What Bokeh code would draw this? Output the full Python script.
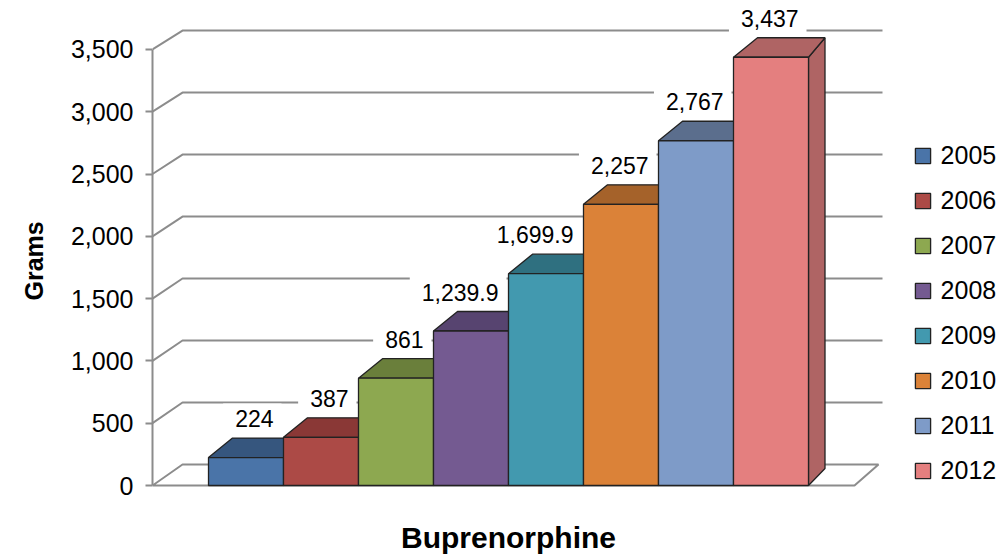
from bokeh.plotting import figure
from bokeh.models import Range1d, FixedTicker, Legend, LegendItem, ColumnDataSource, Title
from bokeh.core.properties import value
from bokeh.embed import file_html
from bokeh.resources import INLINE

# ---------------- data ----------------
years = ["2005", "2006", "2007", "2008", "2009", "2010", "2011", "2012"]
grams = [224, 387, 861, 1239.9, 1699.9, 2257, 2767, 3437]
value_labels = ["224", "387", "861", "1,239.9", "1,699.9", "2,257", "2,767", "3,437"]
y_ticks = [0, 500, 1000, 1500, 2000, 2500, 3000, 3500]
y_tick_labels = ["0", "500", "1,000", "1,500", "2,000", "2,500", "3,000", "3,500"]
x_title = "Buprenorphine"
y_title = "Grams"

front_colors = ["#4A74A8", "#AC4A46", "#8DA850", "#745A91", "#4299AF", "#DB8238", "#7E9BC8", "#E47F7F"]
shade_colors = ["#36567E", "#8A3836", "#6A7F3B", "#574470", "#2F7080", "#A5622A", "#5B6E8D", "#AF6464"]

# ---------------- layout / style ----------------
FONT = "Liberation Sans"
GRID = "#8c8c8c"
EDGE = "#222222"
W, H = 1003, 555
LEFT = 152
FW, FH = W - LEFT, H
TOP_PX, ZERO_PX = 48.9, 485.0          # px of top tick and of zero
K = (ZERO_PX - TOP_PX) / y_ticks[-1]   # px per gram
y_end = y_ticks[-1] + TOP_PX / K
y_start = -(FH - ZERO_PX) / K
SLOT = 75.0                            # px per bar
FIRST_BAR = 56.0                       # px from axis to first bar
x_start = -FIRST_BAR / SLOT
x_end = x_start + FW / SLOT


def dxu(px):
    return px / SLOT


def dyu(px):
    return px / K


n = len(grams)
WALL_DX, WALL_DY = 30, 21
BACK_SCALE = 0.995
BAR_DX, BAR_DY, BAR_DY_BOTTOM, BACK_W = 24, 19.5, 17, 0.9

p = figure(width=W, height=H, x_range=Range1d(x_start, x_end), y_range=Range1d(y_start, y_end),
           output_backend="svg", toolbar_location=None, x_axis_type=None,
           min_border_left=LEFT, min_border_right=0, min_border_top=0, min_border_bottom=0)
p.outline_line_color = None
p.ygrid.visible = False

# y axis
ax = p.yaxis[0]
ax.ticker = FixedTicker(ticks=y_ticks)
ax.major_label_overrides = {t: l for t, l in zip(y_ticks, y_tick_labels)}
ax.bounds = (y_ticks[0], y_ticks[-1])
ax.axis_line_color = GRID
ax.axis_line_width = 2
ax.major_tick_line_color = GRID
ax.major_tick_line_width = 2
ax.major_tick_in = 0
ax.major_tick_out = 7
ax.minor_tick_in = 0
ax.minor_tick_out = 0
ax.major_label_standoff = 12
ax.major_label_text_font = FONT
ax.major_label_text_font_size = "25px"
ax.major_label_text_color = "black"

# y title: starts (bottom end) 255 px above the bottom of the plot area
p.add_layout(Title(text=y_title, align="left", offset=255, vertical_align="top", standoff=36,
                   text_font=FONT, text_font_size="25px", text_font_style="bold",
                   text_color="black"), "left")

# floor
floor_xs = [x_start, n + dxu(46), n + dxu(70), x_start + dxu(WALL_DX)]
floor_ys = [0, 0, dyu(WALL_DY), dyu(WALL_DY)]
p.patch(floor_xs, floor_ys, fill_color="white", line_color=GRID, line_width=2)

# back wall gridlines (front diagonal + horizontal)
grid_right = n + dxu(74)
gx, gy = [], []
for t in y_ticks[1:]:
    by = t * BACK_SCALE + dyu(WALL_DY)
    gx.append([x_start, x_start + dxu(WALL_DX), grid_right])
    gy.append([t, by, by])
p.multi_line(gx, gy, line_color=GRID, line_width=2)


# label backgrounds
def text_w(s, size):
    return sum(0.556 if c.isdigit() else 0.278 for c in s) * size


LBL_SIZE = 23
LBL_RIGHT_INSET = 10       # px between label's right end and bar's right edge
PAD_L, PAD_R = 12, 8
tws = [text_w(s, LBL_SIZE) for s in value_labels]
lbl = ColumnDataSource(dict(
    x=[i + 1 - dxu(LBL_RIGHT_INSET) for i in range(n)],
    bx=[i + 1 - dxu(LBL_RIGHT_INSET + tw / 2 + (PAD_L - PAD_R) / 2) for i, tw in enumerate(tws)],
    y=[v + dyu(39) for v in grams],
    text=value_labels,
    bw=[tw + PAD_L + PAD_R for tw in tws],
))
p.rect(x="bx", y="y", width="bw", height=30, width_units="screen", height_units="screen",
       source=lbl, fill_color="white", line_color=None)

# 3D bar faces
side_xs, side_ys, top_xs, top_ys = [], [], [], []
for i, v in enumerate(grams):
    bl = i + dxu(BAR_DX)
    br = bl + BACK_W
    top_xs.append([i, bl, br, i + 1])
    top_ys.append([v, v + dyu(BAR_DY), v + dyu(BAR_DY), v])
    side_xs.append([i + 1, i + 1, br, br])
    side_ys.append([0, v, v + dyu(BAR_DY), dyu(BAR_DY_BOTTOM)])

p.patches(side_xs, side_ys, fill_color=shade_colors, line_color=EDGE, line_width=1.3)
p.patches(top_xs, top_ys, fill_color=shade_colors, line_color=EDGE, line_width=1.3)

front = ColumnDataSource(dict(
    left=list(range(n)), right=[i + 1 for i in range(n)],
    bottom=[0] * n, top=grams, color=front_colors, year=years,
))
front_r = p.quad(left="left", right="right", bottom="bottom", top="top", source=front,
                 fill_color="color", line_color=EDGE, line_width=1.3)

# data labels
p.text(x="x", y="y", text="text", source=lbl, text_font=value(FONT),
       text_font_size=value(f"{LBL_SIZE}px"), text_align="right", text_baseline="middle",
       text_color="black")

# category title under the bars
p.text(x=[n / 2], y=[-dyu(537 - ZERO_PX)], text=[x_title], text_font=value(FONT),
       text_font_size=value("30px"), text_font_style="bold", text_align="center",
       text_baseline="middle", text_color="black")

# legend
legend = Legend(items=[LegendItem(label=years[i], renderers=[front_r], index=i) for i in range(n)])
legend.location = (760.6, 69.2)
legend.glyph_width = 19
legend.glyph_height = 19
legend.label_standoff = 9
legend.label_height = 30
legend.spacing = 15
legend.padding = 0
legend.margin = 0
legend.border_line_color = None
legend.background_fill_alpha = 0
legend.label_text_font = FONT
legend.label_text_font_size = "25px"
legend.label_text_color = "black"
p.add_layout(legend)

open("out.html", "w").write(file_html(p, INLINE))
